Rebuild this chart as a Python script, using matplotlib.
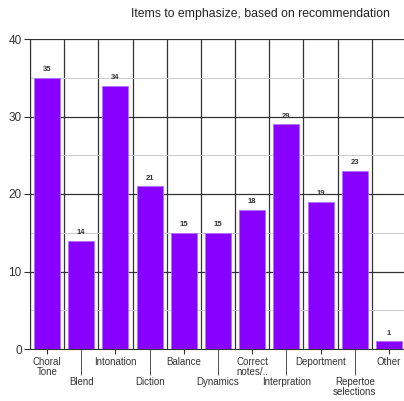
import matplotlib
matplotlib.use("Agg")
import matplotlib.pyplot as plt
import numpy as np

categories = ["Choral\nTone", "Blend", "Intonation", "Diction", "Balance", "Dynamics",
              "Correct\nnotes/..", "Interpration", "Deportment", "Repertoe\nselections", "Other"]
values = [35, 14, 34, 21, 15, 15, 18, 29, 19, 23, 1]
title = "Items to emphasize, based on recommendation"

plt.rcParams['font.family'] = ['Liberation Sans', 'DejaVu Sans']

fig = plt.figure(figsize=(4.04, 4.01), dpi=100)
ax = fig.add_axes([30/404, 1 - 349/401, 376/404, 310/401])

x = np.arange(len(categories))
bars = ax.bar(x, values, width=0.76, color="#8800ff", edgecolor="#b070ff", linewidth=0.6, zorder=3)
for xi, v in zip(x, values):
    ax.text(xi, v + 0.6, str(v), ha="center", va="bottom", fontsize=5.5, fontweight="bold",
            color="#333333", zorder=4)

ax.set_xlim(-0.5, len(categories) - 0.5)
ax.set_ylim(0, 40)

# grid: vertical lines at category boundaries
for b in np.arange(-0.5, len(categories) + 0.5, 1):
    ax.axvline(b, color="#333333", linewidth=0.9, zorder=1)
for yv in [10, 20, 30, 40]:
    ax.axhline(yv, color="#333333", linewidth=0.9, zorder=1)
for yv in [5, 15, 25, 35]:
    ax.axhline(yv, color="#cccccc", linewidth=0.8, zorder=1)

for s in ["top", "right"]:
    ax.spines[s].set_visible(False)
ax.spines["left"].set_color("#333333")
ax.spines["bottom"].set_color("#333333")

ax.set_yticks([0, 10, 20, 30, 40])
ax.tick_params(axis="y", length=4, color="#333333", labelsize=8.5, labelcolor="#333333", pad=2)

even = x[::2]
odd = x[1::2]
ax.set_xticks(even)
ax.set_xticklabels([categories[i] for i in even])
ax.set_xticks(odd, minor=True)
ax.set_xticklabels([categories[i] for i in odd], minor=True)
ax.tick_params(axis="x", which="major", length=3.6, color="#333333", labelsize=7, labelcolor="#333333", pad=2)
ax.tick_params(axis="x", which="minor", length=18.5, color="#333333", labelsize=7, labelcolor="#333333", pad=1.5)
for lbl in ax.get_xticklabels() + ax.get_xticklabels(minor=True):
    lbl.set_linespacing(1.0)

fig.text(390/404, 1 - 14/401, title, ha="right", va="center", fontsize=8.8, color="#222222")

fig.savefig("out.png", dpi=100)
